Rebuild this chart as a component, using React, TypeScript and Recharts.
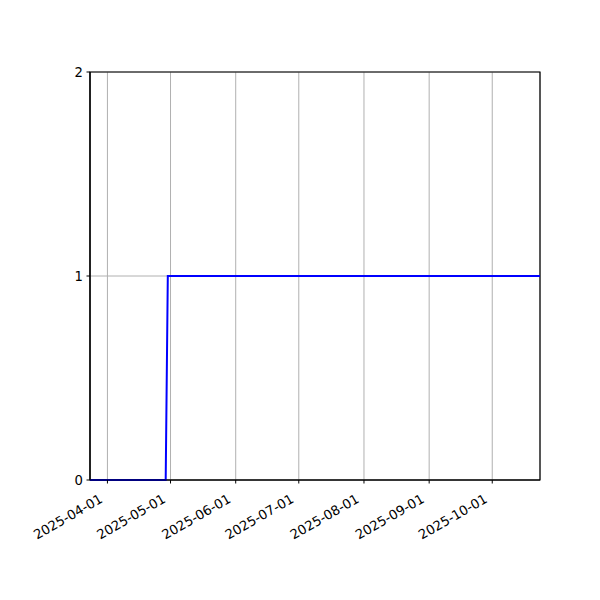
import { LineChart, Line, XAxis, YAxis, CartesianGrid, ReferenceArea } from "recharts";

// step from 0 to 1 at end of April, then flat
const stamps = ["2025-03-23T17:00:00Z", "2025-04-28T17:00:00Z", "2025-04-29T17:00:00Z", "2025-10-23T17:00:00Z"];
const values = [0, 0, 1, 1];

const xTickLabels = ["2025-04-01", "2025-05-01", "2025-06-01", "2025-07-01", "2025-08-01", "2025-09-01", "2025-10-01"];
const yTicks = [0, 1, 2];

const data = stamps.map((s, i) => ({ t: Date.parse(s), v: values[i] }));
const xTicks = xTickLabels.map(d => Date.parse(d + "T00:00:00Z"));
const tMin = data[0].t;
const tMax = data[data.length - 1].t;

const FONT = "DejaVu Sans, sans-serif";
const FS = 13.2;

function fmtDate(ms: number) {
  return new Date(ms).toISOString().slice(0, 10);
}

function DateTick(props: any) {
  const { x, y, payload } = props;
  const ax = x - 4;
  const ay = y + 16;
  return (
    <text
      x={ax}
      y={ay}
      textAnchor="end"
      fontSize={FS}
      fontFamily={FONT}
      fill="#000"
      transform={`rotate(-30, ${ax}, ${ay})`}
    >
      {fmtDate(payload.value)}
    </text>
  );
}

export default function App() {
  return (
    <div style={{ position: "absolute", left: 0, top: 0, width: 600, height: 600, background: "#fff" }}>
      <LineChart width={600} height={600} data={data} margin={{ top: 72, right: 60, bottom: 60, left: 50 }}>
        <CartesianGrid stroke="#b0b0b0" strokeWidth={1} />
        <XAxis
          dataKey="t"
          type="number"
          scale="time"
          domain={[tMin, tMax]}
          ticks={xTicks}
          height={60}
          tick={<DateTick />}
          tickSize={3.5}
          tickLine={{ stroke: "#000", strokeWidth: 1 }}
          axisLine={{ stroke: "#000", strokeWidth: 1.2 }}
          interval={0}
          allowDataOverflow
        />
        <YAxis
          type="number"
          domain={[0, 2]}
          ticks={yTicks}
          width={40}
          tickSize={3.5}
          tickMargin={3.5}
          tickLine={{ stroke: "#000", strokeWidth: 1 }}
          axisLine={{ stroke: "#000", strokeWidth: 1.2 }}
          tick={{ fontSize: FS, fontFamily: FONT, fill: "#000" }}
          interval={0}
        />
        <ReferenceArea x1={tMin} x2={tMax} y1={0} y2={2} fill="none" stroke="#000" strokeWidth={1.2} fillOpacity={0} />
        <Line type="linear" dataKey="v" stroke="#0000ff" strokeWidth={2} dot={false} isAnimationActive={false} />
      </LineChart>
    </div>
  );
}
